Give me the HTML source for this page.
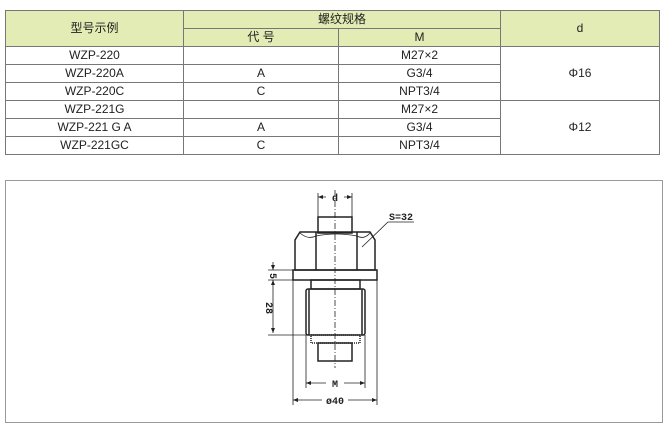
<!DOCTYPE html>
<html><head><meta charset="utf-8"><style>
body{margin:0;width:668px;height:429px;background:#fff;position:relative;font-family:"Liberation Sans","Noto Sans CJK SC",sans-serif;overflow:hidden}
table{position:absolute;left:5px;top:10px;width:655px;border-collapse:collapse;font-size:12px;color:#222}
td{border:1px solid #777;text-align:center;padding:0;height:17px;line-height:17px}
.h{background:#e2ecb4}
#box{position:absolute;left:5px;top:180px;width:656px;height:241px;border:1px solid #999}
</style></head><body>
<table>
<tr class="h"><td rowspan="2" style="width:177px">型号示例</td><td colspan="2">螺纹规格</td><td rowspan="2">d</td></tr>
<tr class="h"><td style="width:154px">代 号</td><td style="width:161px">M</td></tr>
<tr><td>WZP-220</td><td></td><td>M27×2</td><td rowspan="3">Φ16</td></tr>
<tr><td>WZP-220A</td><td>A</td><td>G3/4</td></tr>
<tr><td>WZP-220C</td><td>C</td><td>NPT3/4</td></tr>
<tr><td>WZP-221G</td><td></td><td>M27×2</td><td rowspan="3">Φ12</td></tr>
<tr><td>WZP-221 G A</td><td>A</td><td>G3/4</td></tr>
<tr><td>WZP-221GC</td><td>C</td><td>NPT3/4</td></tr>
</table>
<div id="box"></div>
<svg width="668" height="429" style="position:absolute;left:0;top:0" fill="none" stroke="#222" stroke-width="1.5">
<rect x="318" y="217" width="34" height="16"/>
<path d="M295 270 V240 L300 232 H370 L375 240 V270 Z M316 232 V270 M357 232 V270"/>
<path d="M300 233 Q308 240 316 236 M316 236 Q336 232 357 236 M357 236 Q364 240 370 233" stroke-width="0.8"/>
<rect x="293" y="270" width="84" height="10"/>
<rect x="311" y="280" width="49" height="9"/>
<rect x="306" y="289" width="59" height="46" rx="2"/>
<path d="M309 289 V335 M362 289 V335"/>
<rect x="311" y="335" width="49" height="8" stroke-dasharray="1 1"/>
<rect x="318" y="343" width="34" height="18"/>
<path d="M335 190 V368" stroke-width="0.8" stroke-dasharray="6 2 1 2"/>
<g stroke-width="0.8">
<path d="M318 193 V217 M352 193 V217 M318 197 H326 M344 197 H352"/>
<path d="M268 270 H293 M268 280 H293 M268 335 H306 M273 262 V270 M273 280 V288 M273 282 V333"/>
<path d="M306 335 V388 M365 335 V388 M306 383 H326 M344 383 H365"/>
<path d="M293 280 V405 M377 280 V405 M293 400 H322 M348 400 H377"/>
<path d="M362 247 L388 222 H414"/>
</g>
<g fill="#222" stroke="none">
<path d="M318 197 l5 -2 v4z M352 197 l-5 -2 v4z M273 270 l-2 -5 h4z M273 280 l-2 5 h4z M273 333 l-2 -5 h4z M306 383 l5 -2 v4z M365 383 l-5 -2 v4z M293 400 l5 -2 v4z M377 400 l-5 -2 v4z"/>
</g>
<g fill="#222" stroke="none" font-family="Liberation Mono,monospace" font-size="10" font-weight="bold">
<text x="335" y="201" text-anchor="middle">d</text>
<text x="389" y="220">S=32</text>
<text x="335" y="387" text-anchor="middle">M</text>
<text x="335" y="404" text-anchor="middle">ø40</text>
<text transform="translate(270,276) rotate(90)" text-anchor="middle">5</text>
<text transform="translate(266,308) rotate(90)" text-anchor="middle">28</text>
</g>
</svg>
</body></html>
